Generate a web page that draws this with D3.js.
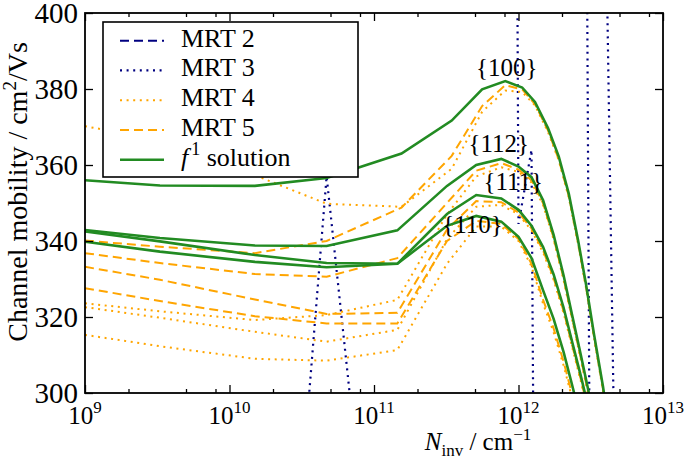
<!DOCTYPE html>
<html>
<head>
<meta charset="utf-8">
<script src="https://cdn.jsdelivr.net/npm/d3@7"></script>
<style>
  body { margin: 0; background: #fff; }
  svg { display: block; font-family: "Liberation Serif", "Times New Roman", serif; }
</style>
</head>
<body>
<div id="chart"></div>
<script>
// N_inv grid of the {100} runs, and the one shared by {112}, {111}, {110}
var nInv100 = [1e9, 3.3e9, 1.5e10, 4.7e10, 1.55e11, 3.45e11, 5.6e11, 8.1e11, 1.06e12, 1.3e12,
  1.6e12, 1.9e12, 2.23e12, 2.58e12, 2.93e12, 3.33e12, 3.85e12, 4.4e12];
var nInv = [1e9, 3.3e9, 1.5e10, 4.7e10, 1.45e11, 3.2e11, 5.1e11, 7.6e11, 1.0e12, 1.23e12,
  1.48e12, 1.75e12, 2.05e12, 2.35e12, 2.7e12, 3.05e12, 3.45e12, 3.9e12];

// f1 solution
var f1_100 = [356.0, 354.6, 354.5, 356.6, 363.0, 371.7, 379.9, 382.1, 380.4, 376.6,
  369.7, 362.2, 352.4, 340.3, 328.7, 315.5, 301.5, 286.3];
var f1_112 = [342.9, 340.8, 338.8, 338.7, 342.8, 354.5, 360.0, 361.6, 359.6, 356.8,
  350.7, 341.6, 331.0, 320.5, 310.0, 300.5, 290.0, 278.0];
var f1_111 = [342.5, 339.9, 336.3, 334.2, 334.0, 347.1, 352.1, 351.2, 348.2, 344.0,
  338.4, 331.2, 322.5, 313.5, 304.5, 296.0, 286.0, 275.0];
var f1_110 = [339.8, 337.2, 334.5, 333.1, 334.0, 344.0, 346.6, 345.1, 341.1, 335.5,
  327.0, 319.5, 310.8, 302.1, 292.9, 283.0, 272.0, 260.0];

// MRT 5
var mrt5_100 = [340.1, 338.5, 336.8, 340.0, 348.8, 362.4, 375.5, 381.0, 379.9, 376.0,
  369.1, 361.4, 351.8, 339.7, 328.1, 314.9, 300.9, 285.7];
var mrt5_112 = [336.8, 334.2, 331.3, 330.6, 335.5, 350.0, 358.5, 360.5, 358.8, 356.0,
  349.9, 340.8, 330.2, 319.7, 309.2, 299.7, 289.2, 277.2];
var mrt5_111 = [333.2, 329.8, 324.6, 320.8, 321.1, 343.0, 350.5, 350.2, 347.5, 343.3,
  337.5, 330.3, 321.6, 312.6, 303.6, 295.0, 285.0, 274.0];
var mrt5_110 = [327.6, 324.2, 320.2, 318.3, 318.3, 340.0, 345.3, 344.5, 340.5, 334.0,
  324.5, 317.0, 308.3, 299.6, 290.4, 280.5, 269.5, 257.5];

// MRT 4
var mrt4_100 = [370.2, 366.7, 357.3, 349.8, 349.0, 359.0, 374.0, 379.6, 379.2, 375.7,
  368.7, 361.2, 351.4, 339.3, 327.7, 314.5, 300.5, 285.3];
var mrt4_112 = [323.6, 321.5, 319.2, 320.5, 324.5, 347.0, 357.0, 359.4, 358.2, 355.4,
  349.5, 340.4, 329.8, 319.3, 308.8, 299.3, 288.8, 276.8];
var mrt4_111 = [322.6, 319.8, 316.1, 313.5, 316.6, 340.5, 349.0, 349.5, 347.0, 342.8,
  337.0, 329.8, 321.1, 312.1, 303.1, 294.5, 284.5, 273.5];
var mrt4_110 = [315.3, 312.3, 309.0, 308.5, 311.3, 334.0, 343.8, 343.8, 340.0, 333.3,
  323.5, 316.0, 307.3, 298.6, 289.4, 279.5, 268.5, 256.5];

// MRT 3 only shows up as a few near-vertical branches
var mrt3N_a = [1.5e10, 4.7e10, 1.45e11], mrt3_a = [122, 357, 182];
var mrt3N_b = [7.6e11, 1.0e12, 1.23e12, 1.48e12], mrt3_b = [1300, 344.5, 364, -100];
var mrt3N_c = [2.7e12, 3.45e12], mrt3_c = [725, -50];
var mrt3N_d = [3.85e12, 5.0e12], mrt3_d = [472, 198];

var orientations = ["{100}", "{112}", "{111}", "{110}"];
var labelAt = [[8.3e11, 383.5], [7.3e11, 363.5], [9.2e11, 353.5], [4.8e11, 342]];

var xTickExp = [9, 10, 11, 12, 13];
var xMinor = [2, 5, 8];
var yTicks = [300, 320, 340, 360, 380, 400];
var legendLabels = ["MRT 2", "MRT 3", "MRT 4", "MRT 5", "solution"];

var width = 687,
  height = 464;
var pLeft = 85, pRight = 663, pTop = 13, pBottom = 393;

var svg = d3.select('#chart').append('svg')
  .attr('width', width)
  .attr('height', height);

var x = d3.scaleLog().domain([1e9, 1e13]).range([pLeft, pRight]);
var y = d3.scaleLinear().domain([300, 400]).range([pBottom, pTop]);

var green = "#228b22", orange = "#ffa500", navy = "#000080";
var styles = {
  mrt2: { color: navy, width: 2, dash: "9,5" },
  mrt3: { color: navy, width: 2.2, dash: "2,4.6" },
  mrt4: { color: orange, width: 2, dash: "2,4.6" },
  mrt5: { color: orange, width: 2, dash: "9,5" },
  f1: { color: green, width: 2.6, dash: null }
};

svg.append("clipPath").attr("id", "plot")
  .append("rect")
  .attr("x", pLeft).attr("y", pTop)
  .attr("width", pRight - pLeft).attr("height", pBottom - pTop);

var series = [
  { n: mrt3N_a, v: mrt3_a, s: "mrt3" },
  { n: mrt3N_b, v: mrt3_b, s: "mrt3" },
  { n: mrt3N_c, v: mrt3_c, s: "mrt3" },
  { n: mrt3N_d, v: mrt3_d, s: "mrt3" },
  { n: nInv100, v: mrt4_100, s: "mrt4" },
  { n: nInv, v: mrt4_112, s: "mrt4" },
  { n: nInv, v: mrt4_111, s: "mrt4" },
  { n: nInv, v: mrt4_110, s: "mrt4" },
  { n: nInv100, v: mrt5_100, s: "mrt5" },
  { n: nInv, v: mrt5_112, s: "mrt5" },
  { n: nInv, v: mrt5_111, s: "mrt5" },
  { n: nInv, v: mrt5_110, s: "mrt5" },
  { n: nInv100, v: f1_100, s: "f1" },
  { n: nInv, v: f1_112, s: "f1" },
  { n: nInv, v: f1_111, s: "f1" },
  { n: nInv, v: f1_110, s: "f1" }
];

var line = d3.line()
  .x(function(d) { return x(d[0]); })
  .y(function(d) { return y(d[1]); });

var lines = svg.append("g").attr("clip-path", "url(#plot)");

series.forEach(function(s) {
  var st = styles[s.s];
  lines.append("path")
    .datum(d3.zip(s.n, s.v))
    .attr("d", line)
    .style("fill", "none")
    .style("stroke", st.color)
    .style("stroke-width", st.width)
    .style("stroke-dasharray", st.dash);
});

// orientation labels
orientations.forEach(function(o, i) {
  svg.append("text")
    .text(o)
    .attr("x", x(labelAt[i][0]))
    .attr("y", y(labelAt[i][1]))
    .attr("text-anchor", "middle")
    .style("font-size", "25px");
});

// ticks, inward on all four sides
var majors = xTickExp.map(function(e) { return Math.pow(10, e); });
var minors = [];
xTickExp.slice(0, -1).forEach(function(e) {
  xMinor.forEach(function(m) { minors.push(m * Math.pow(10, e)); });
});

function tickAxis(axis, pos) {
  var g = svg.append("g").attr("transform", pos).call(axis);
  g.select(".domain").remove();
  g.selectAll("line").style("stroke", "black").style("stroke-width", 1.3);
  g.selectAll("text").remove();
}
tickAxis(d3.axisBottom(x).tickValues(majors).tickSize(-8), "translate(0," + pBottom + ")");
tickAxis(d3.axisBottom(x).tickValues(minors).tickSize(-4), "translate(0," + pBottom + ")");
tickAxis(d3.axisTop(x).tickValues(majors).tickSize(-8), "translate(0," + pTop + ")");
tickAxis(d3.axisTop(x).tickValues(minors).tickSize(-4), "translate(0," + pTop + ")");
tickAxis(d3.axisLeft(y).tickValues(yTicks).tickSize(-8), "translate(" + pLeft + ",0)");
tickAxis(d3.axisRight(y).tickValues(yTicks).tickSize(-8), "translate(" + pRight + ",0)");

svg.append("rect")
  .attr("x", pLeft).attr("y", pTop)
  .attr("width", pRight - pLeft).attr("height", pBottom - pTop)
  .style("fill", "none")
  .style("stroke", "black")
  .style("stroke-width", 1.8);

// tick labels
yTicks.forEach(function(t) {
  svg.append("text")
    .text(t)
    .attr("x", pLeft - 7)
    .attr("y", y(t) + 10)
    .attr("text-anchor", "end")
    .style("font-size", "29px");
});

xTickExp.forEach(function(e) {
  var t = svg.append("text")
    .attr("x", x(Math.pow(10, e)))
    .attr("y", pBottom + 31)
    .attr("text-anchor", "middle")
    .style("font-size", "25px");
  t.append("tspan").text("10");
  t.append("tspan").text(e).attr("dy", -11).style("font-size", "17px");
});

// axis titles
var xt = svg.append("text")
  .attr("x", 478)
  .attr("y", 450)
  .attr("text-anchor", "middle")
  .style("font-size", "25px");
xt.append("tspan").text("N").style("font-style", "italic");
xt.append("tspan").text("inv").attr("dy", 6).style("font-size", "17px");
xt.append("tspan").text(" / cm").attr("dy", -6);
xt.append("tspan").text("\u22121").attr("dy", -10).style("font-size", "17px");

var yt = svg.append("text")
  .attr("transform", "translate(27,192) rotate(-90)")
  .attr("text-anchor", "middle")
  .style("font-size", "28px");
yt.append("tspan").text("Channel mobility / cm");
yt.append("tspan").text("2").attr("dy", -11).style("font-size", "19px");
yt.append("tspan").text("/Vs").attr("dy", 11);

// legend
var legend = svg.append("g");
legend.append("rect")
  .attr("x", 103).attr("y", 22)
  .attr("width", 255).attr("height", 155)
  .style("fill", "white")
  .style("stroke", "black")
  .style("stroke-width", 1.6);

var legendStyles = ["mrt2", "mrt3", "mrt4", "mrt5", "f1"];
legendLabels.forEach(function(lab, i) {
  var by = 46.7 + i * 29.75;
  var st = styles[legendStyles[i]];
  legend.append("line")
    .attr("x1", 120).attr("x2", 164)
    .attr("y1", by - 6).attr("y2", by - 6)
    .style("stroke", st.color)
    .style("stroke-width", st.width)
    .style("stroke-dasharray", st.dash);
  var t = legend.append("text")
    .attr("x", 181)
    .attr("y", by)
    .style("font-size", "26px");
  if (legendStyles[i] == "f1") {
    t.append("tspan").text("f").style("font-style", "italic");
    t.append("tspan").text("1").attr("dy", -11).style("font-size", "18px").attr("dx", 3);
    t.append("tspan").text(" " + lab).attr("dy", 11);
  } else {
    t.text(lab);
  }
});
</script>
</body>
</html>
